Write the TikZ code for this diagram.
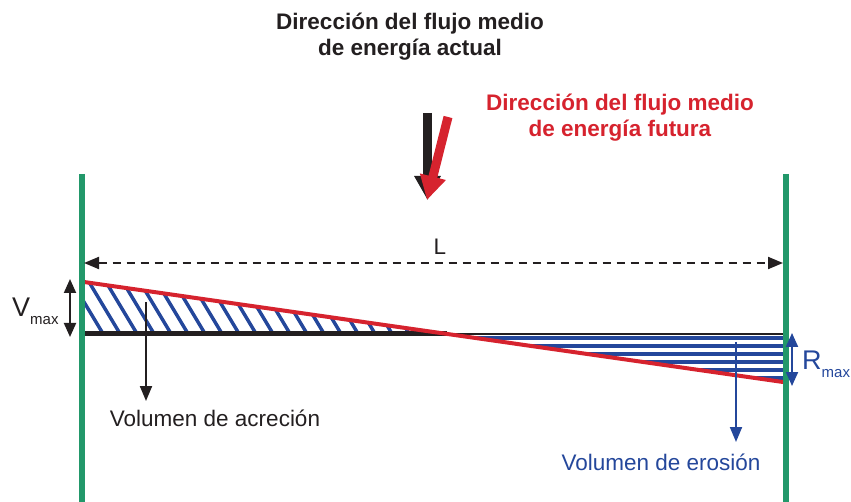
\documentclass[tikz,border=0pt]{standalone}
\usepackage{fontspec}
\setmainfont{Liberation Sans}
\usetikzlibrary{arrows.meta, positioning, calc}
\definecolor{verde}{HTML}{22986A}
\definecolor{rojo}{HTML}{D6232E}
\definecolor{azul}{HTML}{24479B}
\definecolor{negro}{HTML}{231F20}
\tikzset{
  poste/.style={draw=verde, line width=6pt},
  basegruesa/.style={draw=negro, line width=5pt},
  basefina/.style={draw=negro, line width=2pt},
  perfil/.style={draw=rojo, line width=4pt},
  rayado/.style={draw=azul, line width=3.5pt},
  cota/.style={draw=negro, line width=2pt, dash pattern=on 8pt off 6pt,
               {Triangle[length=15pt,width=12pt]}-{Triangle[length=15pt,width=12pt]}},
  doble/.style={line width=2pt, {Triangle[length=14pt,width=12pt]}-{Triangle[length=14pt,width=12pt]}},
  flecha/.style={line width=2pt, -{Triangle[length=15pt,width=12pt]}},
  gorda/.style={line width=9pt, -{Triangle[length=24pt,width=25pt]}},
  titulo/.style={font=\fontsize{22.5}{26}\selectfont\bfseries, align=center, inner sep=0pt},
  etiqueta/.style={font=\fontsize{22.5}{26}\selectfont, inner sep=0pt},
  letra/.style={font=\fontsize{27}{30}\selectfont, inner sep=0pt}
}
\newcommand{\subm}[1]{\raisebox{-8pt}{\fontsize{15}{15}\selectfont #1}}

\begin{document}
\begin{tikzpicture}[x=1pt, y=-1pt]
  \useasboundingbox (0,0) rectangle (851,502);
  \coordinate (izqsup) at (81.5,174);
  \coordinate (izqinf) at (81.5,502);
  \coordinate (dersup) at (786,174);
  \coordinate (derinf) at (786,502);
  \coordinate (baseizq) at (84,334);
  \coordinate (cruce) at (447,334);
  \coordinate (baseder) at (783,334);
  \coordinate (rojoizq) at (84,282);
  \coordinate (rojoder) at (783,382);
  \begin{scope}
    \clip (rojoizq) -- (cruce) -- (baseizq) -- cycle;
    \foreach \i in {0,...,24}
      \draw [rayado] (60+\i*17,262) -- ++(48,80);
  \end{scope}
  \begin{scope}
    \clip (cruce) -- (baseder) -- (rojoder) -- cycle;
    \foreach \y in {338,346,354,362,370,378}
      \draw [rayado] (440,\y) -- (790,\y);
  \end{scope}
  \draw [basegruesa] (baseizq) -- (cruce);
  \draw [basefina] (cruce) -- (baseder);
  \draw [perfil] (rojoizq) -- (rojoder);
  \draw [poste] (izqsup) -- (izqinf);
  \draw [poste] (dersup) -- (derinf);
  \node (tituloact) [titulo, text=negro] at (410,37) {Dirección del flujo medio\\ de energía actual};
  \node (titulofut) [titulo, text=rojo] at (620,118) {Dirección del flujo medio\\ de energía futura};
  \coordinate (negsup) at (427.5,113);
  \coordinate (negpunta) at (427.5,200);
  \coordinate (rojsup) at (448,117);
  \coordinate (rojpunta) at (427,200);
  \draw [gorda, negro] (negsup) -- (negpunta);
  \draw [gorda, rojo] (rojsup) -- (rojpunta);
  \coordinate (cotaizq) at (84,263);
  \coordinate (cotader) at (783,263);
  \draw [cota] (cotaizq) -- (cotader);
  \node (etiqL) [etiqueta, text=negro] at (440,247) {L};
  \coordinate (vsup) at (70,279);
  \coordinate (vinf) at (70,337);
  \draw [doble, negro] (vsup) -- (vinf);
  \node (etiqV) [letra, text=negro, anchor=base west] at (12,317) {V\subm{max}};
  \coordinate (rsup) at (792,333);
  \coordinate (rinf) at (792,386);
  \draw [doble, azul] (rsup) -- (rinf);
  \node (etiqR) [letra, text=azul, anchor=base west] at (802,370) {R\subm{max}};
  \node (acrecion) [etiqueta, text=negro] at (215,418) {Volumen de acreción};
  \coordinate (acrini) at (146,302);
  \coordinate (acrfin) at (146,401);
  \draw [flecha, negro] (acrini) -- (acrfin);
  \node (erosion) [etiqueta, text=azul] at (661,462) {Volumen de erosión};
  \coordinate (eroini) at (736,342);
  \coordinate (erofin) at (736,442);
  \draw [flecha, azul] (eroini) -- (erofin);
\end{tikzpicture}
\end{document}
